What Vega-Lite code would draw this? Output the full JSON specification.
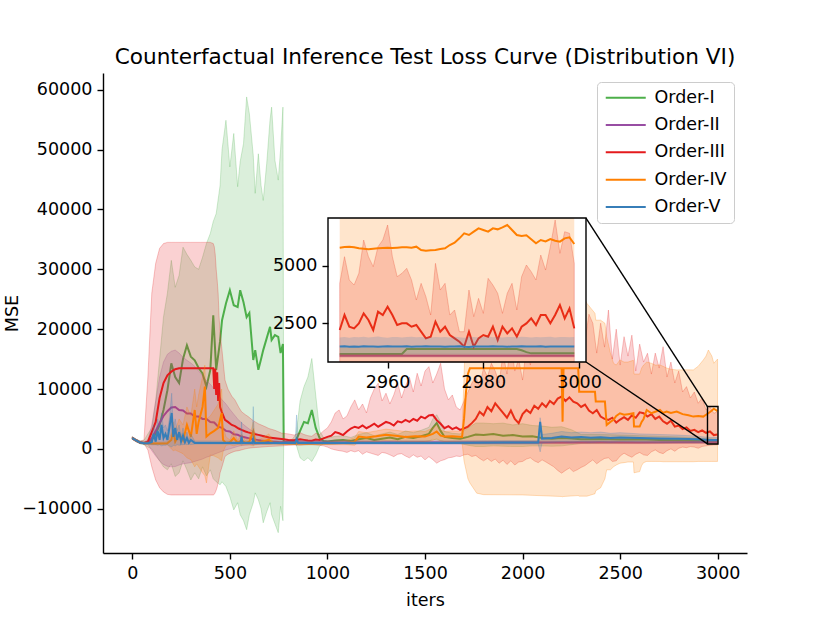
{
"$schema":"https://vega.github.io/schema/vega-lite/v6.json",
"width":644,"height":480,
"autosize":{"type":"none"},
"padding":{"left":103,"top":73,"right":83,"bottom":70},
"background":"white",
"title":{"text":"Counterfactual Inference Test Loss Curve (Distribution VI)","font":"DejaVu Sans","fontSize":21.6,"fontWeight":"normal","color":"black","anchor":"middle","frame":"group","baseline":"alphabetic","offset":-13},
"config":{"view":{"stroke":null},
"axis":{"grid":false,"domainColor":"black","domainWidth":1.4,"tickColor":"black","tickWidth":1.4,"tickSize":6,"labelPadding":5,"labelFont":"DejaVu Sans","labelFontSize":17.5,"labelColor":"black","labelFlush":false,"labelOverlap":false,"titleFont":"DejaVu Sans","titleFontSize":17.5,"titleFontWeight":"normal","titleColor":"black"},
"axisX":{"titlePadding":10},"axisY":{"titlePadding":0}},
"datasets":{
"g":[{"x":0,"m":1800,"l":1600,"h":2000},{"x":20,"m":1400,"l":1200,"h":1600},{"x":40,"m":1050,"l":850,"h":1300},{"x":60,"m":950,"l":700,"h":1400},{"x":80,"m":1100,"l":300,"h":2500},{"x":100,"m":1500,"l":0,"h":3500},{"x":120,"m":2500,"l":-1000,"h":8000},{"x":140,"m":4000,"l":-2000,"h":15000},{"x":160,"m":6500,"l":-3000,"h":22000},{"x":180,"m":9800,"l":-3500,"h":26000},{"x":200,"m":14300,"l":-2500,"h":31500},{"x":220,"m":12000,"l":-4600,"h":27000},{"x":240,"m":11000,"l":-4000,"h":29000},{"x":260,"m":15000,"l":-2000,"h":33700},{"x":280,"m":17300,"l":-3500,"h":32500},{"x":300,"m":15400,"l":-5200,"h":31500},{"x":320,"m":14800,"l":-4000,"h":30400},{"x":340,"m":13500,"l":-5000,"h":30000},{"x":360,"m":12600,"l":-3000,"h":32000},{"x":380,"m":10400,"l":-4500,"h":34300},{"x":400,"m":13200,"l":-3500,"h":36000},{"x":415,"m":22300,"l":-5000,"h":38000},{"x":430,"m":13200,"l":-5500,"h":39300},{"x":450,"m":18000,"l":-6000,"h":44000},{"x":460,"m":21500,"l":-5500,"h":50000},{"x":480,"m":24300,"l":-6300,"h":54900},{"x":500,"m":26500,"l":-8000,"h":47100},{"x":520,"m":24000,"l":-10200,"h":52700},{"x":540,"m":23700,"l":-9000,"h":43800},{"x":553,"m":26500,"l":-11000,"h":48000},{"x":570,"m":24500,"l":-12000,"h":51000},{"x":586,"m":22000,"l":-13500,"h":58800},{"x":600,"m":22700,"l":-11000,"h":56000},{"x":620,"m":14850,"l":-9000,"h":49000},{"x":630,"m":16500,"l":-7350,"h":42700},{"x":646,"m":13200,"l":-8500,"h":49300},{"x":660,"m":15000,"l":-10000,"h":44000},{"x":671,"m":16500,"l":-12350,"h":41500},{"x":689,"m":18500,"l":-10500,"h":47700},{"x":706,"m":20400,"l":-9000,"h":55000},{"x":714,"m":18200,"l":-11000,"h":57100},{"x":731,"m":19000,"l":-12500,"h":48200},{"x":748,"m":18700,"l":-14000,"h":44900},{"x":760,"m":16000,"l":-9600,"h":50000},{"x":772,"m":17500,"l":-12000,"h":57100},{"x":776,"m":1200,"l":900,"h":1500},{"x":800,"m":1100,"l":800,"h":1500},{"x":820,"m":1200,"l":800,"h":1600},{"x":840,"m":1500,"l":700,"h":2500},{"x":860,"m":3000,"l":-1500,"h":8000},{"x":880,"m":4500,"l":-2000,"h":10400},{"x":900,"m":4300,"l":-1500,"h":12000},{"x":920,"m":6500,"l":-2100,"h":15100},{"x":940,"m":3500,"l":-1000,"h":9000},{"x":960,"m":1800,"l":500,"h":3000},{"x":980,"m":1300,"l":800,"h":1900},{"x":1000,"m":1250,"l":800,"h":1800},{"x":1040,"m":1400,"l":800,"h":2100},{"x":1080,"m":1500,"l":900,"h":2200},{"x":1120,"m":1300,"l":800,"h":1900},{"x":1160,"m":1600,"l":900,"h":2400},{"x":1200,"m":1800,"l":1000,"h":2700},{"x":1240,"m":1500,"l":900,"h":2200},{"x":1280,"m":1700,"l":1000,"h":2500},{"x":1320,"m":1900,"l":1100,"h":2800},{"x":1360,"m":1600,"l":900,"h":2400},{"x":1400,"m":2000,"l":1100,"h":3000},{"x":1440,"m":1800,"l":1000,"h":2700},{"x":1480,"m":2100,"l":1200,"h":3100},{"x":1520,"m":2500,"l":1300,"h":3600},{"x":1540,"m":3500,"l":1600,"h":5000},{"x":1560,"m":4300,"l":1500,"h":5700},{"x":1580,"m":3000,"l":1400,"h":4500},{"x":1600,"m":2000,"l":1200,"h":2900},{"x":1640,"m":1800,"l":1000,"h":2600},{"x":1680,"m":1700,"l":900,"h":2500},{"x":1720,"m":2000,"l":600,"h":3500},{"x":1760,"m":2400,"l":400,"h":4300},{"x":1800,"m":2300,"l":400,"h":4300},{"x":1850,"m":2500,"l":500,"h":4200},{"x":1900,"m":2200,"l":450,"h":4300},{"x":1950,"m":2300,"l":400,"h":4000},{"x":2000,"m":2050,"l":400,"h":4200},{"x":2050,"m":2100,"l":500,"h":3900},{"x":2100,"m":1800,"l":500,"h":3800},{"x":2150,"m":1700,"l":450,"h":3600},{"x":2200,"m":1800,"l":500,"h":3700},{"x":2250,"m":1750,"l":700,"h":3200},{"x":2300,"m":1600,"l":900,"h":2400},{"x":2400,"m":1650,"l":900,"h":2400},{"x":2500,"m":1550,"l":950,"h":2300},{"x":2600,"m":1600,"l":1000,"h":2200},{"x":2700,"m":1500,"l":1000,"h":2100},{"x":2800,"m":1450,"l":1000,"h":2000},{"x":2900,"m":1350,"l":1000,"h":1800},{"x":2960,"m":1300,"l":1000,"h":1700},{"x":2999,"m":1200,"l":950,"h":1600}],
"p":[{"x":0,"m":1800,"l":1600,"h":2000},{"x":20,"m":1400,"l":1200,"h":1600},{"x":40,"m":1050,"l":900,"h":1250},{"x":60,"m":950,"l":800,"h":1150},{"x":80,"m":1100,"l":800,"h":1500},{"x":100,"m":1800,"l":-300,"h":4000},{"x":120,"m":3000,"l":-1200,"h":8000},{"x":140,"m":4300,"l":-2000,"h":12000},{"x":160,"m":5500,"l":-2600,"h":14500},{"x":180,"m":6300,"l":-2900,"h":15800},{"x":200,"m":6900,"l":-3000,"h":16300},{"x":220,"m":7000,"l":-2950,"h":16500},{"x":240,"m":6500,"l":-2700,"h":16000},{"x":260,"m":6400,"l":-2500,"h":15300},{"x":280,"m":5900,"l":-2400,"h":14800},{"x":300,"m":5900,"l":-2300,"h":14350},{"x":320,"m":5400,"l":-2100,"h":13800},{"x":340,"m":5400,"l":-1900,"h":13000},{"x":360,"m":5000,"l":-1700,"h":12200},{"x":380,"m":5000,"l":-1400,"h":11400},{"x":400,"m":4500,"l":-1200,"h":10800},{"x":420,"m":4400,"l":-900,"h":10000},{"x":440,"m":3700,"l":-650,"h":9000},{"x":460,"m":3500,"l":-400,"h":8200},{"x":480,"m":3000,"l":-170,"h":7500},{"x":500,"m":2900,"l":0,"h":6600},{"x":520,"m":2450,"l":200,"h":5800},{"x":540,"m":2350,"l":400,"h":5000},{"x":560,"m":2050,"l":550,"h":4340},{"x":580,"m":1900,"l":600,"h":3800},{"x":600,"m":1750,"l":650,"h":3300},{"x":620,"m":1600,"l":700,"h":2900},{"x":640,"m":1500,"l":720,"h":2500},{"x":660,"m":1400,"l":750,"h":2300},{"x":700,"m":1250,"l":800,"h":2000},{"x":750,"m":1150,"l":820,"h":1700},{"x":800,"m":1100,"l":850,"h":1500},{"x":900,"m":1080,"l":850,"h":1400},{"x":1000,"m":1070,"l":850,"h":1350},{"x":1200,"m":1080,"l":860,"h":1320},{"x":1400,"m":1060,"l":850,"h":1300},{"x":1600,"m":1070,"l":860,"h":1300},{"x":1800,"m":1080,"l":860,"h":1320},{"x":2000,"m":1070,"l":860,"h":1300},{"x":2200,"m":1080,"l":870,"h":1300},{"x":2400,"m":1090,"l":880,"h":1320},{"x":2600,"m":1080,"l":880,"h":1300},{"x":2800,"m":1090,"l":900,"h":1300},{"x":2999,"m":1094,"l":920,"h":1290}],
"r":[{"x":0,"m":1800,"l":1600,"h":2000},{"x":20,"m":1400,"l":1200,"h":1600},{"x":40,"m":1050,"l":900,"h":1300},{"x":60,"m":1000,"l":900,"h":1500},{"x":80,"m":1200,"l":-200,"h":12000},{"x":100,"m":2800,"l":-3000,"h":26000},{"x":120,"m":4500,"l":-5200,"h":31000},{"x":140,"m":8500,"l":-6500,"h":33500},{"x":160,"m":11000,"l":-7200,"h":34300},{"x":180,"m":12300,"l":-7600,"h":34500},{"x":200,"m":12900,"l":-7700,"h":34500},{"x":220,"m":13300,"l":-7700,"h":34500},{"x":240,"m":13470,"l":-7700,"h":34500},{"x":300,"m":13470,"l":-7700,"h":34500},{"x":350,"m":13470,"l":-7700,"h":34500},{"x":400,"m":13470,"l":-7700,"h":34500},{"x":415,"m":13470,"l":-7700,"h":34300},{"x":420,"m":10000,"l":-7600,"h":33800},{"x":425,"m":13400,"l":-7300,"h":32500},{"x":430,"m":9000,"l":-6900,"h":30000},{"x":435,"m":12800,"l":-6400,"h":28200},{"x":440,"m":8000,"l":-5700,"h":26000},{"x":445,"m":11000,"l":-5000,"h":22000},{"x":450,"m":7000,"l":-4000,"h":19500},{"x":458,"m":6230,"l":-3200,"h":17070},{"x":475,"m":4840,"l":-1280,"h":11500},{"x":490,"m":4500,"l":-900,"h":10000},{"x":510,"m":4000,"l":-600,"h":8800},{"x":526,"m":3800,"l":-400,"h":8180},{"x":545,"m":3400,"l":-300,"h":7000},{"x":560,"m":3170,"l":-170,"h":6200},{"x":580,"m":2900,"l":0,"h":5700},{"x":594,"m":2750,"l":100,"h":5390},{"x":620,"m":2500,"l":200,"h":4700},{"x":646,"m":2340,"l":250,"h":4200},{"x":680,"m":2050,"l":350,"h":3720},{"x":700,"m":1900,"l":400,"h":3400},{"x":731,"m":1780,"l":450,"h":3100},{"x":766,"m":1650,"l":500,"h":2620},{"x":800,"m":1500,"l":600,"h":2500},{"x":830,"m":1450,"l":650,"h":2300},{"x":860,"m":1600,"l":600,"h":2700},{"x":880,"m":1500,"l":650,"h":2400},{"x":900,"m":1400,"l":700,"h":2200},{"x":920,"m":1350,"l":700,"h":2100},{"x":940,"m":1550,"l":650,"h":2600},{"x":960,"m":1500,"l":600,"h":2400},{"x":980,"m":1750,"l":500,"h":3000},{"x":1000,"m":2000,"l":300,"h":3500},{"x":1020,"m":2200,"l":0,"h":4500},{"x":1040,"m":2800,"l":-170,"h":6000},{"x":1060,"m":2600,"l":-300,"h":6500},{"x":1080,"m":2300,"l":-400,"h":5000},{"x":1100,"m":2900,"l":-600,"h":5500},{"x":1120,"m":3400,"l":-300,"h":7000},{"x":1140,"m":3700,"l":-500,"h":8180},{"x":1160,"m":3500,"l":-300,"h":6500},{"x":1180,"m":3900,"l":-900,"h":7500},{"x":1200,"m":3450,"l":-500,"h":6000},{"x":1220,"m":3800,"l":-700,"h":8500},{"x":1240,"m":4200,"l":-900,"h":10000},{"x":1260,"m":3700,"l":-1100,"h":10960},{"x":1280,"m":4100,"l":-600,"h":8000},{"x":1300,"m":4500,"l":-720,"h":9300},{"x":1320,"m":4300,"l":-1000,"h":7500},{"x":1340,"m":3900,"l":-1300,"h":9000},{"x":1360,"m":4600,"l":-900,"h":11000},{"x":1380,"m":4400,"l":-800,"h":8500},{"x":1400,"m":4840,"l":-1200,"h":10500},{"x":1420,"m":4500,"l":-1500,"h":12000},{"x":1440,"m":5000,"l":-1000,"h":9500},{"x":1460,"m":4700,"l":-1400,"h":12630},{"x":1480,"m":5390,"l":-1200,"h":10500},{"x":1500,"m":5100,"l":-1840,"h":13000},{"x":1520,"m":5600,"l":-1300,"h":13740},{"x":1540,"m":5670,"l":-1800,"h":11000},{"x":1560,"m":4800,"l":-2390,"h":12500},{"x":1580,"m":4200,"l":-2000,"h":14300},{"x":1600,"m":3450,"l":-1800,"h":10000},{"x":1620,"m":3800,"l":-1500,"h":8180},{"x":1640,"m":3300,"l":-1400,"h":9000},{"x":1660,"m":3600,"l":-1200,"h":7000},{"x":1680,"m":3170,"l":-1280,"h":6500},{"x":1700,"m":3400,"l":-1000,"h":8000},{"x":1720,"m":3720,"l":-900,"h":9500},{"x":1740,"m":4300,"l":-1280,"h":10960},{"x":1760,"m":5000,"l":-1100,"h":12000},{"x":1780,"m":6200,"l":-1600,"h":10500},{"x":1800,"m":5600,"l":-2000,"h":13500},{"x":1820,"m":7000,"l":-1600,"h":12000},{"x":1840,"m":6300,"l":-2100,"h":14300},{"x":1860,"m":7620,"l":-1700,"h":13000},{"x":1880,"m":6800,"l":-2400,"h":11000},{"x":1900,"m":6000,"l":-1900,"h":16000},{"x":1920,"m":5200,"l":-2600,"h":12500},{"x":1940,"m":6400,"l":-2000,"h":18000},{"x":1960,"m":5000,"l":-2700,"h":13000},{"x":1980,"m":4300,"l":-2200,"h":15000},{"x":2000,"m":5800,"l":-2100,"h":11500},{"x":2020,"m":6500,"l":-1700,"h":17000},{"x":2040,"m":6000,"l":-1500,"h":14000},{"x":2060,"m":7200,"l":-2000,"h":19000},{"x":2080,"m":6700,"l":-2300,"h":15000},{"x":2100,"m":7620,"l":-1840,"h":20000},{"x":2120,"m":7000,"l":-2200,"h":16000},{"x":2140,"m":8000,"l":-2600,"h":21000},{"x":2160,"m":7500,"l":-3000,"h":17000},{"x":2180,"m":8400,"l":-3600,"h":22000},{"x":2200,"m":8730,"l":-4060,"h":18500},{"x":2220,"m":8000,"l":-3600,"h":21000},{"x":2240,"m":8600,"l":-3200,"h":17000},{"x":2260,"m":7900,"l":-3800,"h":22000},{"x":2280,"m":7620,"l":-3500,"h":19000},{"x":2300,"m":7000,"l":-3100,"h":23000},{"x":2320,"m":7400,"l":-2800,"h":18000},{"x":2340,"m":6400,"l":-2300,"h":22500},{"x":2360,"m":5950,"l":-1840,"h":20980},{"x":2380,"m":6500,"l":-2500,"h":16000},{"x":2400,"m":5400,"l":-2000,"h":21000},{"x":2420,"m":5000,"l":-1600,"h":17000},{"x":2440,"m":4840,"l":-1500,"h":23200},{"x":2460,"m":5200,"l":-2100,"h":15000},{"x":2480,"m":4400,"l":-2000,"h":20000},{"x":2500,"m":4900,"l":-1200,"h":14000},{"x":2520,"m":5300,"l":-720,"h":18740},{"x":2540,"m":4840,"l":-1100,"h":15500},{"x":2560,"m":5600,"l":-1400,"h":19000},{"x":2580,"m":5200,"l":-900,"h":13000},{"x":2600,"m":6100,"l":-600,"h":17500},{"x":2620,"m":5950,"l":-1000,"h":14500},{"x":2640,"m":5400,"l":-1100,"h":15970},{"x":2660,"m":5800,"l":-500,"h":12500},{"x":2680,"m":5000,"l":-170,"h":16000},{"x":2700,"m":5390,"l":-600,"h":13500},{"x":2720,"m":4600,"l":-800,"h":17070},{"x":2740,"m":4200,"l":-300,"h":12000},{"x":2760,"m":4700,"l":0,"h":14500},{"x":2780,"m":3720,"l":-400,"h":11000},{"x":2800,"m":3900,"l":100,"h":13000},{"x":2820,"m":3300,"l":300,"h":9500},{"x":2840,"m":3600,"l":200,"h":10400},{"x":2860,"m":3000,"l":380,"h":8500},{"x":2880,"m":3170,"l":300,"h":9500},{"x":2900,"m":2800,"l":100,"h":7620},{"x":2920,"m":3100,"l":400,"h":8500},{"x":2940,"m":2670,"l":500,"h":6500},{"x":2960,"m":2900,"l":600,"h":7000},{"x":2980,"m":2300,"l":650,"h":5950},{"x":2999,"m":2400,"l":670,"h":6200}],
"o":[{"x":0,"m":1800,"l":1600,"h":2000},{"x":20,"m":1400,"l":1200,"h":1600},{"x":40,"m":1050,"l":900,"h":1250},{"x":60,"m":950,"l":800,"h":1150},{"x":80,"m":920,"l":750,"h":1100},{"x":100,"m":900,"l":700,"h":1100},{"x":140,"m":900,"l":700,"h":1100},{"x":180,"m":920,"l":700,"h":1200},{"x":200,"m":1500,"l":0,"h":2500},{"x":210,"m":3000,"l":-300,"h":4500},{"x":220,"m":1200,"l":-200,"h":3000},{"x":240,"m":2500,"l":-500,"h":5000},{"x":260,"m":1400,"l":-800,"h":4000},{"x":280,"m":4000,"l":-1500,"h":7000},{"x":300,"m":2000,"l":-1800,"h":5500},{"x":320,"m":6500,"l":-3000,"h":10000},{"x":330,"m":2500,"l":-2500,"h":7000},{"x":340,"m":4500,"l":-3000,"h":9000},{"x":360,"m":7000,"l":-4000,"h":12000},{"x":372,"m":10400,"l":-4500,"h":14000},{"x":380,"m":2050,"l":-5700,"h":5000},{"x":400,"m":2600,"l":-1000,"h":5500},{"x":420,"m":3000,"l":-1200,"h":6500},{"x":440,"m":3500,"l":-1500,"h":7500},{"x":458,"m":6000,"l":-2000,"h":10000},{"x":465,"m":1500,"l":-500,"h":4000},{"x":480,"m":1000,"l":600,"h":2000},{"x":500,"m":1100,"l":700,"h":1500},{"x":520,"m":1800,"l":500,"h":3000},{"x":540,"m":1000,"l":700,"h":1400},{"x":560,"m":1400,"l":600,"h":2500},{"x":580,"m":1000,"l":700,"h":1400},{"x":600,"m":1200,"l":700,"h":1900},{"x":620,"m":2900,"l":500,"h":4500},{"x":630,"m":1000,"l":700,"h":1400},{"x":660,"m":1200,"l":800,"h":1700},{"x":700,"m":1500,"l":700,"h":2500},{"x":720,"m":1000,"l":800,"h":1300},{"x":760,"m":950,"l":750,"h":1200},{"x":800,"m":900,"l":700,"h":1100},{"x":900,"m":900,"l":700,"h":1100},{"x":1000,"m":950,"l":700,"h":1200},{"x":1100,"m":1000,"l":700,"h":1400},{"x":1140,"m":1200,"l":600,"h":1900},{"x":1160,"m":2050,"l":1200,"h":2900},{"x":1200,"m":1900,"l":1100,"h":2700},{"x":1250,"m":2100,"l":1200,"h":3000},{"x":1300,"m":2340,"l":1400,"h":3300},{"x":1350,"m":2200,"l":1300,"h":3100},{"x":1400,"m":2000,"l":1200,"h":2900},{"x":1450,"m":2100,"l":1200,"h":3000},{"x":1500,"m":2050,"l":1200,"h":2900},{"x":1540,"m":2500,"l":1400,"h":3500},{"x":1560,"m":2900,"l":1700,"h":4100},{"x":1580,"m":2200,"l":1300,"h":3100},{"x":1600,"m":2050,"l":1200,"h":2900},{"x":1640,"m":2100,"l":1200,"h":3000},{"x":1690,"m":2000,"l":1100,"h":2900},{"x":1700,"m":5000,"l":-2000,"h":12000},{"x":1710,"m":9500,"l":-3500,"h":22000},{"x":1720,"m":12500,"l":-5000,"h":28000},{"x":1730,"m":13470,"l":-5700,"h":30000},{"x":1765,"m":13470,"l":-7400,"h":31000},{"x":1800,"m":13470,"l":-7650,"h":31500},{"x":2000,"m":13470,"l":-7700,"h":31500},{"x":2200,"m":13470,"l":-7960,"h":31500},{"x":2205,"m":4550,"l":-8000,"h":20000},{"x":2210,"m":13470,"l":-7960,"h":31500},{"x":2285,"m":13470,"l":-7800,"h":31000},{"x":2290,"m":9560,"l":-7900,"h":27000},{"x":2330,"m":9560,"l":-7900,"h":24300},{"x":2371,"m":9560,"l":-7500,"h":22650},{"x":2375,"m":7900,"l":-7000,"h":21500},{"x":2400,"m":7900,"l":-6500,"h":21500},{"x":2422,"m":7900,"l":-5000,"h":20980},{"x":2431,"m":4000,"l":-3500,"h":18740},{"x":2450,"m":4500,"l":-3500,"h":16000},{"x":2466,"m":4840,"l":-3000,"h":14300},{"x":2480,"m":5500,"l":-2700,"h":14000},{"x":2499,"m":5950,"l":-2400,"h":14850},{"x":2520,"m":5700,"l":-2300,"h":14500},{"x":2540,"m":5800,"l":-2200,"h":14500},{"x":2568,"m":5950,"l":-2200,"h":14800},{"x":2571,"m":3720,"l":-4000,"h":12500},{"x":2600,"m":3720,"l":-3800,"h":12500},{"x":2610,"m":4500,"l":-2800,"h":13500},{"x":2620,"m":5000,"l":-2300,"h":14000},{"x":2636,"m":6500,"l":-2100,"h":14500},{"x":2660,"m":5950,"l":-2100,"h":14300},{"x":2680,"m":6200,"l":-2100,"h":14000},{"x":2704,"m":6500,"l":-2100,"h":14020},{"x":2720,"m":6000,"l":-2150,"h":13800},{"x":2738,"m":6230,"l":-2150,"h":13500},{"x":2760,"m":6000,"l":-2150,"h":13300},{"x":2790,"m":6230,"l":-2150,"h":13190},{"x":2820,"m":5800,"l":-2150,"h":13200},{"x":2850,"m":5600,"l":-2150,"h":13200},{"x":2875,"m":5390,"l":-2150,"h":13190},{"x":2900,"m":5500,"l":-2100,"h":13800},{"x":2926,"m":5390,"l":-2100,"h":14850},{"x":2940,"m":5700,"l":-2100,"h":15500},{"x":2952,"m":5950,"l":-2100,"h":16520},{"x":2970,"m":6400,"l":-2100,"h":15500},{"x":2980,"m":6700,"l":-2100,"h":14300},{"x":2999,"m":6300,"l":-2100,"h":15000}],
"b":[{"x":0,"m":1800,"l":1600,"h":2000},{"x":20,"m":1400,"l":1200,"h":1600},{"x":40,"m":1050,"l":900,"h":1250},{"x":60,"m":950,"l":800,"h":1150},{"x":80,"m":950,"l":750,"h":1200},{"x":100,"m":1100,"l":700,"h":1600},{"x":110,"m":2500,"l":700,"h":4000},{"x":120,"m":1200,"l":700,"h":2000},{"x":130,"m":3000,"l":600,"h":5000},{"x":140,"m":1500,"l":700,"h":3000},{"x":150,"m":4000,"l":500,"h":6000},{"x":160,"m":1800,"l":600,"h":3500},{"x":170,"m":2500,"l":600,"h":4000},{"x":180,"m":1500,"l":700,"h":3000},{"x":190,"m":3500,"l":500,"h":5000},{"x":202,"m":6000,"l":300,"h":9300},{"x":210,"m":2000,"l":600,"h":3500},{"x":220,"m":3500,"l":500,"h":5000},{"x":230,"m":1500,"l":700,"h":3000},{"x":240,"m":2800,"l":600,"h":4000},{"x":250,"m":1200,"l":700,"h":2000},{"x":260,"m":2200,"l":700,"h":3500},{"x":270,"m":1100,"l":800,"h":1600},{"x":280,"m":1800,"l":700,"h":2800},{"x":290,"m":1000,"l":800,"h":1400},{"x":300,"m":1500,"l":700,"h":2500},{"x":320,"m":1000,"l":800,"h":1300},{"x":400,"m":1000,"l":800,"h":1300},{"x":500,"m":1000,"l":800,"h":1300},{"x":555,"m":1000,"l":800,"h":1300},{"x":560,"m":2000,"l":600,"h":4500},{"x":565,"m":1000,"l":800,"h":1300},{"x":615,"m":1000,"l":800,"h":1300},{"x":620,"m":1600,"l":600,"h":7060},{"x":625,"m":1000,"l":800,"h":1300},{"x":700,"m":1000,"l":800,"h":1300},{"x":835,"m":1000,"l":800,"h":1300},{"x":842,"m":1600,"l":600,"h":5670},{"x":850,"m":1000,"l":800,"h":1300},{"x":1000,"m":1000,"l":800,"h":1300},{"x":1300,"m":1000,"l":800,"h":1300},{"x":1600,"m":1000,"l":800,"h":1300},{"x":1900,"m":1050,"l":800,"h":1350},{"x":2080,"m":1050,"l":800,"h":1350},{"x":2090,"m":4500,"l":-500,"h":5200},{"x":2100,"m":1700,"l":1000,"h":2400},{"x":2150,"m":1800,"l":1100,"h":2600},{"x":2200,"m":2050,"l":1200,"h":2900},{"x":2250,"m":1900,"l":1100,"h":2700},{"x":2300,"m":2000,"l":1200,"h":2800},{"x":2350,"m":1850,"l":1100,"h":2700},{"x":2400,"m":1950,"l":1200,"h":2800},{"x":2450,"m":1800,"l":1100,"h":2600},{"x":2500,"m":1900,"l":1200,"h":2700},{"x":2600,"m":1800,"l":1150,"h":2500},{"x":2700,"m":1750,"l":1100,"h":2400},{"x":2800,"m":1700,"l":1100,"h":2300},{"x":2900,"m":1600,"l":1100,"h":2100},{"x":2960,"m":1500,"l":1150,"h":1900},{"x":2999,"m":1490,"l":1150,"h":1880}],
"ins":[{"x":2950,"r":2208,"rh":4234,"rl":600,"o":5782,"g":1166,"b":1490,"bh":1880,"bl":1150},{"x":2951,"r":2859,"rh":5391,"rl":600,"o":5811,"g":1166,"b":1500,"bh":1900,"bl":1150},{"x":2952,"r":2352,"rh":4378,"rl":600,"o":5825,"g":1166,"b":1485,"bh":1870,"bl":1150},{"x":2953,"r":2280,"rh":4161,"rl":600,"o":5796,"g":1166,"b":1495,"bh":1910,"bl":1150},{"x":2954,"r":2497,"rh":4668,"rl":600,"o":5753,"g":1166,"b":1480,"bh":1890,"bl":1150},{"x":2955,"r":2931,"rh":6115,"rl":600,"o":5738,"g":1166,"b":1505,"bh":1920,"bl":1150},{"x":2956,"r":2642,"rh":5391,"rl":600,"o":5709,"g":1166,"b":1490,"bh":1880,"bl":1150},{"x":2957,"r":2208,"rh":4957,"rl":600,"o":5738,"g":1166,"b":1498,"bh":1900,"bl":1150},{"x":2958,"r":3004,"rh":5825,"rl":600,"o":5753,"g":1166,"b":1487,"bh":1930,"bl":1150},{"x":2959,"r":2859,"rh":6115,"rl":600,"o":5767,"g":1166,"b":1493,"bh":1890,"bl":1150},{"x":2960,"r":3221,"rh":6766,"rl":600,"o":5782,"g":1166,"b":1500,"bh":1870,"bl":1150},{"x":2961,"r":2859,"rh":5391,"rl":600,"o":5767,"g":1166,"b":1488,"bh":1900,"bl":1150},{"x":2962,"r":2425,"rh":4523,"rl":600,"o":5782,"g":1166,"b":1495,"bh":1910,"bl":1150},{"x":2963,"r":2497,"rh":4668,"rl":600,"o":5796,"g":1166,"b":1490,"bh":1880,"bl":1150},{"x":2964,"r":2497,"rh":4885,"rl":600,"o":5796,"g":1383,"b":1502,"bh":1900,"bl":1150},{"x":2965,"r":2352,"rh":4378,"rl":600,"o":5782,"g":1383,"b":1485,"bh":1920,"bl":1150},{"x":2966,"r":2425,"rh":3510,"rl":600,"o":5825,"g":1383,"b":1495,"bh":1890,"bl":1150},{"x":2967,"r":2135,"rh":4234,"rl":600,"o":5680,"g":1383,"b":1490,"bh":1900,"bl":1150},{"x":2968,"r":1846,"rh":3655,"rl":600,"o":5652,"g":1383,"b":1500,"bh":1870,"bl":1150},{"x":2969,"r":1918,"rh":2859,"rl":600,"o":5666,"g":1383,"b":1488,"bh":1880,"bl":1150},{"x":2970,"r":2570,"rh":5102,"rl":600,"o":5680,"g":1383,"b":1492,"bh":1910,"bl":1150},{"x":2971,"r":2135,"rh":3944,"rl":600,"o":5724,"g":1383,"b":1497,"bh":1890,"bl":1150},{"x":2972,"r":2352,"rh":4234,"rl":600,"o":5753,"g":1383,"b":1486,"bh":1900,"bl":1150},{"x":2973,"r":1991,"rh":2859,"rl":600,"o":5898,"g":1383,"b":1494,"bh":1880,"bl":1150},{"x":2974,"r":1846,"rh":3076,"rl":600,"o":5999,"g":1383,"b":1490,"bh":1920,"bl":1150},{"x":2975,"r":1701,"rh":2135,"rl":600,"o":6187,"g":1383,"b":1500,"bh":1890,"bl":1150},{"x":2976,"r":1484,"rh":2135,"rl":600,"o":6404,"g":1383,"b":1480,"bh":1870,"bl":1150},{"x":2977,"r":2135,"rh":3944,"rl":600,"o":6332,"g":1383,"b":1470,"bh":1900,"bl":1150},{"x":2978,"r":1484,"rh":2787,"rl":600,"o":6476,"g":1383,"b":1490,"bh":1910,"bl":1150},{"x":2979,"r":1846,"rh":3582,"rl":600,"o":6621,"g":1383,"b":1495,"bh":1880,"bl":1150},{"x":2980,"r":1991,"rh":2931,"rl":600,"o":6549,"g":1383,"b":1488,"bh":1900,"bl":1150},{"x":2981,"r":1918,"rh":4451,"rl":600,"o":6476,"g":1383,"b":1493,"bh":1930,"bl":1150},{"x":2982,"r":2352,"rh":4161,"rl":600,"o":6621,"g":1383,"b":1500,"bh":1890,"bl":1150},{"x":2983,"r":1774,"rh":3800,"rl":600,"o":6578,"g":1383,"b":1490,"bh":1900,"bl":1150},{"x":2984,"r":2352,"rh":2931,"rl":600,"o":6664,"g":1383,"b":1497,"bh":1880,"bl":1150},{"x":2985,"r":2063,"rh":3800,"rl":600,"o":6766,"g":1383,"b":1485,"bh":1910,"bl":1150},{"x":2986,"r":2280,"rh":4234,"rl":600,"o":6549,"g":1383,"b":1495,"bh":1900,"bl":1150},{"x":2987,"r":1918,"rh":3076,"rl":600,"o":6332,"g":1383,"b":1490,"bh":1890,"bl":1150},{"x":2988,"r":2352,"rh":4523,"rl":600,"o":6288,"g":1330,"b":1500,"bh":1920,"bl":1150},{"x":2989,"r":2497,"rh":5029,"rl":600,"o":6317,"g":1250,"b":1488,"bh":1900,"bl":1150},{"x":2990,"r":2714,"rh":4740,"rl":600,"o":6144,"g":1195,"b":1495,"bh":1880,"bl":1150},{"x":2991,"r":2425,"rh":4378,"rl":600,"o":5970,"g":1195,"b":1490,"bh":1910,"bl":1150},{"x":2992,"r":2859,"rh":5463,"rl":600,"o":6115,"g":1195,"b":1500,"bh":1890,"bl":1150},{"x":2993,"r":2859,"rh":4812,"rl":600,"o":6057,"g":1195,"b":1487,"bh":1900,"bl":1150},{"x":2994,"r":2497,"rh":5825,"rl":600,"o":6158,"g":1195,"b":1493,"bh":1920,"bl":1150},{"x":2995,"r":2859,"rh":6983,"rl":600,"o":6086,"g":1195,"b":1490,"bh":1880,"bl":1150},{"x":2996,"r":3293,"rh":5536,"rl":600,"o":6042,"g":1195,"b":1498,"bh":1900,"bl":1150},{"x":2997,"r":2714,"rh":6476,"rl":600,"o":6187,"g":1195,"b":1490,"bh":1910,"bl":1150},{"x":2998,"r":3148,"rh":6404,"rl":600,"o":6230,"g":1195,"b":1495,"bh":1890,"bl":1150},{"x":2999,"r":2280,"rh":5102,"rl":600,"o":5941,"g":1195,"b":1490,"bh":1900,"bl":1150}],
"cb":[{"x":2950,"gl":1050,"gh":1450,"pl":1000,"ph":1190,"p":1094,"ol":-2100,"oh":15000},{"x":2999,"gl":1050,"gh":1450,"pl":1000,"ph":1190,"p":1094,"ol":-2100,"oh":15000}],
"box":[{"x":2947.55,"x2":3001.45,"y":820,"y2":7070}],
"conn":[{"x":2947.55,"y":7070,"x2":2325,"y2":38570},{"x":2947.55,"y":820,"x2":2325,"y2":14513}]
},
"layer":[
{"data":{"name":"g"},"mark":{"type":"area","fill":"#4daf4a","fillOpacity":0.2,"stroke":"#4daf4a","strokeOpacity":0.25,"strokeWidth":1},
"encoding":{"x":{"field":"x","type":"quantitative","scale":{"domain":[-150,3150],"nice":false,"zero":false},"axis":{"values":[0,500,1000,1500,2000,2500,3000],"format":"d","title":"iters","orient":"bottom"}},
"y":{"field":"l","type":"quantitative","scale":{"domain":[-17400,62800],"nice":false,"zero":false},"axis":{"values":[-10000,0,10000,20000,30000,40000,50000,60000],"format":"d","title":"MSE","orient":"left"}},"y2":{"field":"h"}}},
{"data":{"name":"g"},"mark":{"type":"line","strokeWidth":2},"encoding":{"x":{"field":"x","type":"quantitative","scale":{"domain":[-150,3150],"nice":false,"zero":false},"axis":null},"y":{"field":"m","type":"quantitative","scale":{"domain":[-17400,62800],"nice":false,"zero":false},"axis":null},
"color":{"datum":"Order-I","type":"nominal","scale":{"domain":["Order-I","Order-II","Order-III","Order-IV","Order-V"],"range":["#4daf4a","#984ea3","#e41a1c","#ff7f00","#377eb8"]},
"legend":{"orient":"none","legendX":494,"legendY":9,"title":null,"symbolType":"M-4,0H4","symbolSize":100,"symbolStrokeWidth":2,"symbolOffset":13,"labelOffset":20,"labelFont":"DejaVu Sans","labelFontSize":17.5,"labelColor":"black","rowPadding":8.3,"padding":7,"strokeColor":"#cccccc","fillColor":"rgba(255,255,255,0.8)","cornerRadius":4}}}},
{"data":{"name":"p"},"mark":{"type":"area","fill":"#984ea3","fillOpacity":0.2,"stroke":"#984ea3","strokeOpacity":0.25,"strokeWidth":1},"encoding":{"x":{"field":"x","type":"quantitative","scale":{"domain":[-150,3150],"nice":false,"zero":false},"axis":null},"y":{"field":"l","type":"quantitative","scale":{"domain":[-17400,62800],"nice":false,"zero":false},"axis":null},"y2":{"field":"h"}}},
{"data":{"name":"p"},"mark":{"type":"line","strokeWidth":2},"encoding":{"x":{"field":"x","type":"quantitative","scale":{"domain":[-150,3150],"nice":false,"zero":false},"axis":null},"y":{"field":"m","type":"quantitative","scale":{"domain":[-17400,62800],"nice":false,"zero":false},"axis":null},"color":{"datum":"Order-II","type":"nominal"}}},
{"data":{"name":"r"},"mark":{"type":"area","fill":"#e41a1c","fillOpacity":0.2,"stroke":"#e41a1c","strokeOpacity":0.25,"strokeWidth":1},"encoding":{"x":{"field":"x","type":"quantitative","scale":{"domain":[-150,3150],"nice":false,"zero":false},"axis":null},"y":{"field":"l","type":"quantitative","scale":{"domain":[-17400,62800],"nice":false,"zero":false},"axis":null},"y2":{"field":"h"}}},
{"data":{"name":"r"},"mark":{"type":"line","strokeWidth":2},"encoding":{"x":{"field":"x","type":"quantitative","scale":{"domain":[-150,3150],"nice":false,"zero":false},"axis":null},"y":{"field":"m","type":"quantitative","scale":{"domain":[-17400,62800],"nice":false,"zero":false},"axis":null},"color":{"datum":"Order-III","type":"nominal"}}},
{"data":{"name":"o"},"mark":{"type":"area","fill":"#ff7f00","fillOpacity":0.2,"stroke":"#ff7f00","strokeOpacity":0.25,"strokeWidth":1},"encoding":{"x":{"field":"x","type":"quantitative","scale":{"domain":[-150,3150],"nice":false,"zero":false},"axis":null},"y":{"field":"l","type":"quantitative","scale":{"domain":[-17400,62800],"nice":false,"zero":false},"axis":null},"y2":{"field":"h"}}},
{"data":{"name":"o"},"mark":{"type":"line","strokeWidth":2},"encoding":{"x":{"field":"x","type":"quantitative","scale":{"domain":[-150,3150],"nice":false,"zero":false},"axis":null},"y":{"field":"m","type":"quantitative","scale":{"domain":[-17400,62800],"nice":false,"zero":false},"axis":null},"color":{"datum":"Order-IV","type":"nominal"}}},
{"data":{"name":"b"},"mark":{"type":"area","fill":"#377eb8","fillOpacity":0.2,"stroke":"#377eb8","strokeOpacity":0.25,"strokeWidth":1},"encoding":{"x":{"field":"x","type":"quantitative","scale":{"domain":[-150,3150],"nice":false,"zero":false},"axis":null},"y":{"field":"l","type":"quantitative","scale":{"domain":[-17400,62800],"nice":false,"zero":false},"axis":null},"y2":{"field":"h"}}},
{"data":{"name":"b"},"mark":{"type":"line","strokeWidth":2},"encoding":{"x":{"field":"x","type":"quantitative","scale":{"domain":[-150,3150],"nice":false,"zero":false},"axis":null},"y":{"field":"m","type":"quantitative","scale":{"domain":[-17400,62800],"nice":false,"zero":false},"axis":null},"color":{"datum":"Order-V","type":"nominal"}}},
{"data":{"name":"box"},"mark":{"type":"rect","fillOpacity":0,"stroke":"black","strokeWidth":1.4},"encoding":{"x":{"field":"x","type":"quantitative","scale":{"domain":[-150,3150],"nice":false,"zero":false},"axis":null},"x2":{"field":"x2"},"y":{"field":"y","type":"quantitative","scale":{"domain":[-17400,62800],"nice":false,"zero":false},"axis":null},"y2":{"field":"y2"}}},
{"data":{"name":"conn"},"mark":{"type":"rule","color":"black","strokeWidth":1.4},"encoding":{"x":{"field":"x","type":"quantitative","scale":{"domain":[-150,3150],"nice":false,"zero":false},"axis":null},"x2":{"field":"x2"},"y":{"field":"y","type":"quantitative","scale":{"domain":[-17400,62800],"nice":false,"zero":false},"axis":null},"y2":{"field":"y2"}}},
{"data":{"name":"box"},"mark":{"type":"rect","fill":"white","strokeOpacity":0},"encoding":{
"x":{"field":"x","type":"quantitative","scale":{"domain":[2947.55,3001.45],"range":[225,483],"nice":false,"zero":false},"axis":{"orient":"bottom","offset":-191,"values":[2960,2980,3000],"format":"d","domain":false,"title":null,"zindex":1}},"x2":{"field":"x2"},
"y":{"field":"y","type":"quantitative","scale":{"domain":[820,7070],"range":[289,145],"nice":false,"zero":false,"clamp":true},"axis":{"orient":"left","offset":-225,"values":[2500,5000],"format":"d","domain":false,"title":null,"zindex":1}},"y2":{"field":"y2"}}},
{"data":{"name":"cb"},"mark":{"type":"area","fill":"#4daf4a","fillOpacity":0.2},"encoding":{"x":{"field":"x","type":"quantitative","scale":{"domain":[2947.55,3001.45],"range":[225,483],"nice":false,"zero":false},"axis":null},"y":{"field":"gl","type":"quantitative","scale":{"domain":[820,7070],"range":[289,145],"nice":false,"zero":false,"clamp":true},"axis":null},"y2":{"field":"gh"}}},
{"data":{"name":"ins"},"mark":{"type":"line","strokeWidth":2,"color":"#4daf4a"},"encoding":{"x":{"field":"x","type":"quantitative","scale":{"domain":[2947.55,3001.45],"range":[225,483],"nice":false,"zero":false},"axis":null},"y":{"field":"g","type":"quantitative","scale":{"domain":[820,7070],"range":[289,145],"nice":false,"zero":false,"clamp":true},"axis":null}}},
{"data":{"name":"cb"},"mark":{"type":"area","fill":"#984ea3","fillOpacity":0.2},"encoding":{"x":{"field":"x","type":"quantitative","scale":{"domain":[2947.55,3001.45],"range":[225,483],"nice":false,"zero":false},"axis":null},"y":{"field":"pl","type":"quantitative","scale":{"domain":[820,7070],"range":[289,145],"nice":false,"zero":false,"clamp":true},"axis":null},"y2":{"field":"ph"}}},
{"data":{"name":"cb"},"mark":{"type":"line","strokeWidth":2,"color":"#984ea3"},"encoding":{"x":{"field":"x","type":"quantitative","scale":{"domain":[2947.55,3001.45],"range":[225,483],"nice":false,"zero":false},"axis":null},"y":{"field":"p","type":"quantitative","scale":{"domain":[820,7070],"range":[289,145],"nice":false,"zero":false,"clamp":true},"axis":null}}},
{"data":{"name":"ins"},"mark":{"type":"area","fill":"#e41a1c","fillOpacity":0.2,"stroke":"#e41a1c","strokeOpacity":0.25,"strokeWidth":1},"encoding":{"x":{"field":"x","type":"quantitative","scale":{"domain":[2947.55,3001.45],"range":[225,483],"nice":false,"zero":false},"axis":null},"y":{"field":"rl","type":"quantitative","scale":{"domain":[820,7070],"range":[289,145],"nice":false,"zero":false,"clamp":true},"axis":null},"y2":{"field":"rh"}}},
{"data":{"name":"ins"},"mark":{"type":"line","strokeWidth":2,"color":"#e41a1c"},"encoding":{"x":{"field":"x","type":"quantitative","scale":{"domain":[2947.55,3001.45],"range":[225,483],"nice":false,"zero":false},"axis":null},"y":{"field":"r","type":"quantitative","scale":{"domain":[820,7070],"range":[289,145],"nice":false,"zero":false,"clamp":true},"axis":null}}},
{"data":{"name":"cb"},"mark":{"type":"area","fill":"#ff7f00","fillOpacity":0.2},"encoding":{"x":{"field":"x","type":"quantitative","scale":{"domain":[2947.55,3001.45],"range":[225,483],"nice":false,"zero":false},"axis":null},"y":{"field":"ol","type":"quantitative","scale":{"domain":[820,7070],"range":[289,145],"nice":false,"zero":false,"clamp":true},"axis":null},"y2":{"field":"oh"}}},
{"data":{"name":"ins"},"mark":{"type":"line","strokeWidth":2,"color":"#ff7f00"},"encoding":{"x":{"field":"x","type":"quantitative","scale":{"domain":[2947.55,3001.45],"range":[225,483],"nice":false,"zero":false},"axis":null},"y":{"field":"o","type":"quantitative","scale":{"domain":[820,7070],"range":[289,145],"nice":false,"zero":false,"clamp":true},"axis":null}}},
{"data":{"name":"ins"},"mark":{"type":"area","fill":"#377eb8","fillOpacity":0.2},"encoding":{"x":{"field":"x","type":"quantitative","scale":{"domain":[2947.55,3001.45],"range":[225,483],"nice":false,"zero":false},"axis":null},"y":{"field":"bl","type":"quantitative","scale":{"domain":[820,7070],"range":[289,145],"nice":false,"zero":false,"clamp":true},"axis":null},"y2":{"field":"bh"}}},
{"data":{"name":"ins"},"mark":{"type":"line","strokeWidth":2,"color":"#377eb8"},"encoding":{"x":{"field":"x","type":"quantitative","scale":{"domain":[2947.55,3001.45],"range":[225,483],"nice":false,"zero":false},"axis":null},"y":{"field":"b","type":"quantitative","scale":{"domain":[820,7070],"range":[289,145],"nice":false,"zero":false,"clamp":true},"axis":null}}},
{"data":{"name":"box"},"mark":{"type":"rect","fillOpacity":0,"stroke":"black","strokeWidth":1.4},"encoding":{"x":{"field":"x","type":"quantitative","scale":{"domain":[2947.55,3001.45],"range":[225,483],"nice":false,"zero":false},"axis":null},"x2":{"field":"x2"},"y":{"field":"y","type":"quantitative","scale":{"domain":[820,7070],"range":[289,145],"nice":false,"zero":false,"clamp":true},"axis":null},"y2":{"field":"y2"}}}
],
"resolve":{"scale":{"x":"independent","y":"independent"}}
}
